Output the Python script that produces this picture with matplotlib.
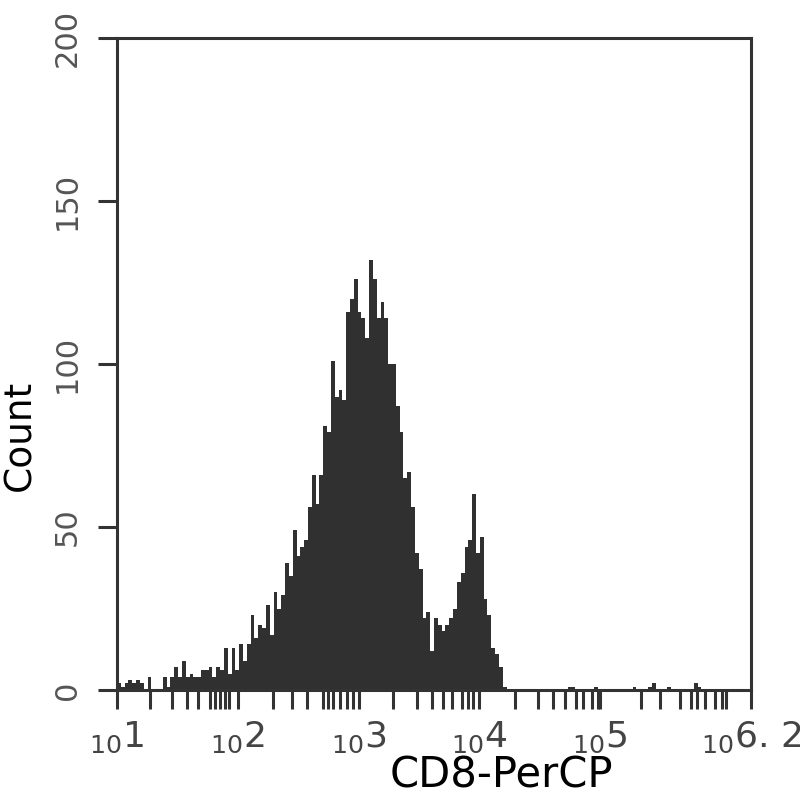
import matplotlib.pyplot as plt
from matplotlib.ticker import FixedLocator, NullFormatter
import numpy as np

plt.rcParams['mathtext.default'] = 'regular'

# histogram of CD8-PerCP, log10 bins from 10^1 up to the right edge
log_min, log_max = 1.0, 6.25
n_bins = 166

counts_main = [
    2, 1, 2, 3, 2, 3, 2, 0, 4, 0, 0, 0, 4, 1, 4, 7, 4, 9, 4, 5,
    4, 4, 6, 6, 7, 4, 7, 6, 13, 5, 13, 6, 14, 9, 14, 23, 16, 20, 19, 26,
    17, 30, 25, 29, 39, 35, 49, 41, 44, 46, 56, 66, 57, 66, 81, 79, 101, 90, 92, 89,
    116, 120, 126, 116, 114, 108, 132, 126, 114, 119, 114, 100, 100, 87, 79, 65, 67, 56, 42, 37,
    22, 24, 12, 22, 20, 18, 20, 22, 25, 33, 36, 44, 46, 60, 42, 47, 28, 23, 13, 11,
    7, 1,
]
# sparse high-end events
tail_bins = [118, 119, 125, 135, 139, 140, 144, 151, 152]
tail_counts = [1, 1, 1, 1, 1, 2, 1, 2, 1]

# rug marks under the axis (log10 of value)
rug_log = [
    1.273, 1.453, 1.582, 1.673, 1.770, 1.812, 1.853, 1.894, 1.928,
    2.294, 2.446, 2.571, 2.703, 2.747, 2.789, 2.847, 2.902, 2.954,
    3.286, 3.482, 3.606, 3.700, 3.772, 3.855, 3.907, 3.948,
    4.296, 4.486, 4.611, 4.710, 4.797, 4.859, 4.934, 4.983,
    5.340, 5.497, 5.663, 5.754, 5.803, 5.872, 5.955, 6.013, 6.046,
]

decade_ticks = [1, 2, 3, 4, 5, log_max]
decade_labels = ['1', '2', '3', '4', '5', '6. 2']
y_ticks = [0, 50, 100, 150, 200]

counts = np.zeros(n_bins)
counts[:len(counts_main)] = counts_main
counts[tail_bins] = tail_counts

edges = 10 ** np.linspace(log_min, log_max, n_bins + 1)

fig = plt.figure(figsize=(8, 8), dpi=100)
ax = fig.add_axes([117 / 800, 1 - 690 / 800, (751 - 117) / 800, (690 - 38) / 800])

ax.bar(edges[:-1], counts, width=np.diff(edges), align='edge',
       color='#303030', edgecolor='none', linewidth=0)

ax.set_xscale('log')
ax.set_xlim(10 ** log_min, 10 ** log_max)
ax.set_ylim(0, 200)

line_c = '#333333'
for sp in ax.spines.values():
    sp.set_color(line_c)
    sp.set_linewidth(2.2)

ax.xaxis.set_major_locator(FixedLocator([10 ** t for t in decade_ticks]))
ax.set_xticklabels([r'${}_{10}$' + s for s in decade_labels])
ax.xaxis.set_minor_locator(FixedLocator([10 ** r for r in rug_log]))
ax.xaxis.set_minor_formatter(NullFormatter())

ax.set_yticks(y_ticks)
ax.set_yticklabels([str(v) for v in y_ticks])

ax.tick_params(axis='both', which='both', direction='out', length=13.5,
               width=2.2, color=line_c)
ax.tick_params(axis='x', which='major', labelsize=26, pad=8, labelcolor='#444444')
ax.tick_params(axis='y', which='major', labelsize=22, pad=12, labelcolor='#555555',
               labelrotation=90)
for lab in ax.get_yticklabels():
    lab.set_va('center')

ax.set_xlabel('CD8-PerCP', fontsize=30)
ax.xaxis.set_label_coords(0.607, -0.099)
ax.set_ylabel('Count', fontsize=27)
ax.yaxis.set_label_coords(-0.124, 0.39)

fig.savefig('out.png', dpi=100)
